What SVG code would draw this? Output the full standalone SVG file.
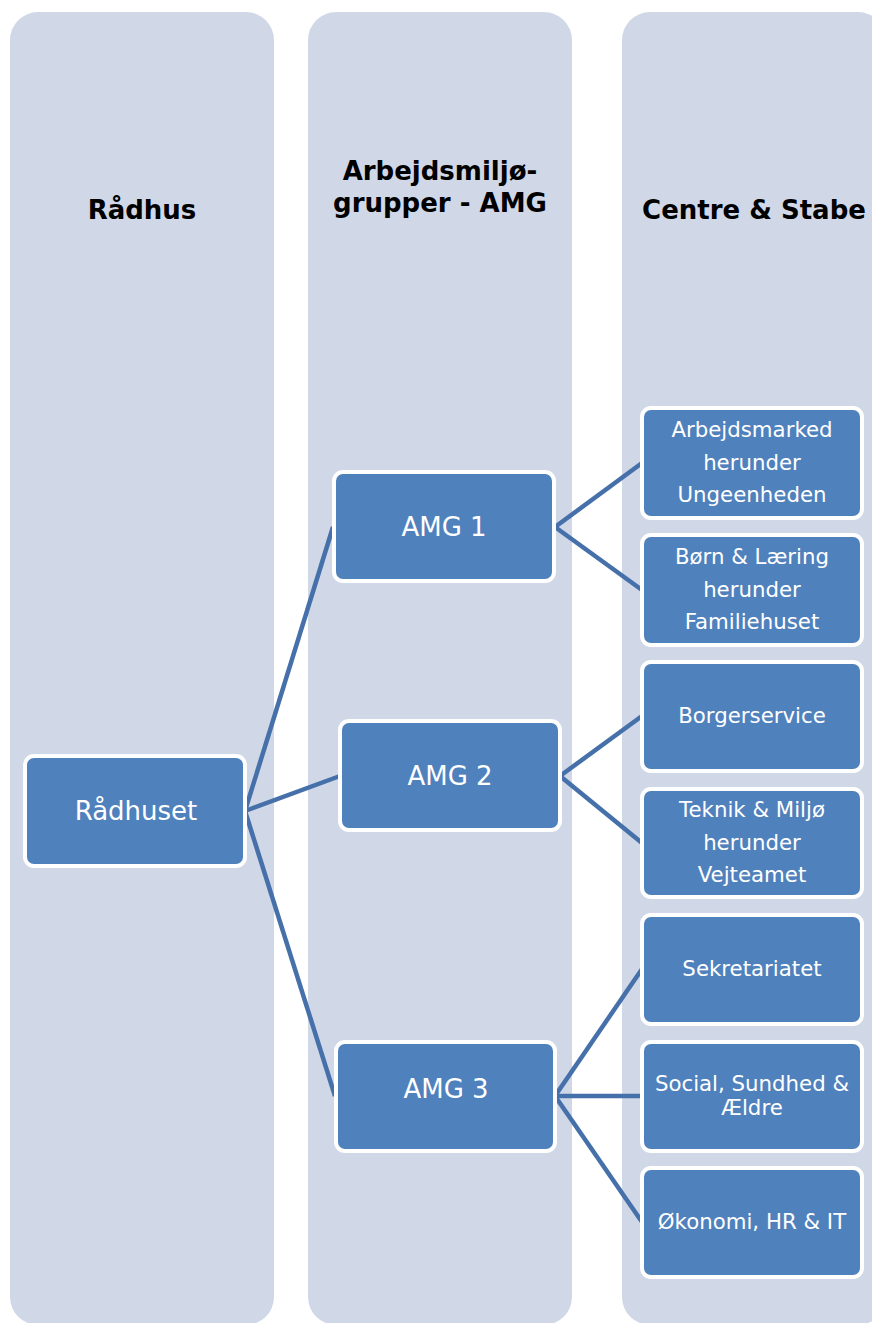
<svg xmlns="http://www.w3.org/2000/svg" width="872" height="1323" viewBox="0 0 872 1323">
<style>
.lane{fill:#D0D8E8}
.hdr{font-family:"DejaVu Sans",Verdana,sans-serif;font-weight:bold;font-size:26px;fill:#000;text-anchor:middle}
.box{fill:#4F81BD;stroke:#FFFFFF;stroke-width:4}
.t{font-family:"DejaVu Sans",Verdana,sans-serif;fill:#FFFFFF;text-anchor:middle}
.big{font-size:26px}
.sm{font-size:21.3px}
.con{stroke:#4670A9;stroke-width:4.5;fill:none}
</style>
<rect width="872" height="1323" fill="#FFFFFF"/>
<g id="lanes">
<rect class="lane" x="10" y="12" width="264" height="1313" rx="28"/>
<rect class="lane" x="308" y="12" width="264" height="1313" rx="28"/>
<rect class="lane" x="622" y="12" width="264" height="1313" rx="28"/>
<text class="hdr" x="142" y="219">Rådhus</text>
<text class="hdr" x="440" y="180">Arbejdsmiljø-</text>
<text class="hdr" x="440" y="212">grupper - AMG</text>
<text class="hdr" x="754" y="219">Centre &amp; Stabe</text>
</g>
<g id="connectors">
<line class="con" x1="245" y1="811" x2="333" y2="527"/>
<line class="con" x1="245" y1="811" x2="340" y2="776"/>
<line class="con" x1="245" y1="811" x2="335" y2="1096"/>
<line class="con" x1="555" y1="527" x2="642" y2="463"/>
<line class="con" x1="555" y1="527" x2="642" y2="590"/>
<line class="con" x1="560" y1="776" x2="642" y2="716"/>
<line class="con" x1="560" y1="776" x2="642" y2="843"/>
<line class="con" x1="555" y1="1096" x2="642" y2="969"/>
<line class="con" x1="555" y1="1096" x2="642" y2="1096"/>
<line class="con" x1="555" y1="1096" x2="642" y2="1222"/>
</g>
<g id="raadhuset">
<rect class="box" x="25" y="756" width="220" height="110" rx="9"/>
<text class="t big" x="136" y="820">Rådhuset</text>
</g>
<g id="amg1">
<rect class="box" x="334" y="472" width="220" height="109" rx="9"/>
<text class="t big" x="444" y="536">AMG 1</text>
</g>
<g id="amg2">
<rect class="box" x="340" y="721" width="220" height="109" rx="9"/>
<text class="t big" x="450" y="785">AMG 2</text>
</g>
<g id="amg3">
<rect class="box" x="336" y="1042" width="219" height="109" rx="9"/>
<text class="t big" x="446" y="1098">AMG 3</text>
</g>
<g id="arbejdsmarked">
<rect class="box" x="642" y="408" width="220" height="110" rx="9"/>
<text class="t sm" x="752" y="437">Arbejdsmarked</text>
<text class="t sm" x="752" y="470">herunder</text>
<text class="t sm" x="752" y="502">Ungeenheden</text>
</g>
<g id="boern">
<rect class="box" x="642" y="535" width="220" height="110" rx="9"/>
<text class="t sm" x="752" y="564">Børn &amp; Læring</text>
<text class="t sm" x="752" y="597">herunder</text>
<text class="t sm" x="752" y="629">Familiehuset</text>
</g>
<g id="borgerservice">
<rect class="box" x="642" y="662" width="220" height="109" rx="9"/>
<text class="t sm" x="752" y="723">Borgerservice</text>
</g>
<g id="teknik">
<rect class="box" x="642" y="789" width="220" height="108" rx="9"/>
<text class="t sm" x="752" y="817">Teknik &amp; Miljø</text>
<text class="t sm" x="752" y="850">herunder</text>
<text class="t sm" x="752" y="882">Vejteamet</text>
</g>
<g id="sekretariatet">
<rect class="box" x="642" y="915" width="220" height="109" rx="9"/>
<text class="t sm" x="752" y="976">Sekretariatet</text>
</g>
<g id="social">
<rect class="box" x="642" y="1042" width="220" height="109" rx="9"/>
<text class="t sm" x="752" y="1091">Social, Sundhed &amp;</text>
<text class="t sm" x="752" y="1115">Ældre</text>
</g>
<g id="oekonomi">
<rect class="box" x="642" y="1168" width="220" height="109" rx="9"/>
<text class="t sm" x="752" y="1229">Økonomi, HR &amp; IT</text>
</g>
</svg>
